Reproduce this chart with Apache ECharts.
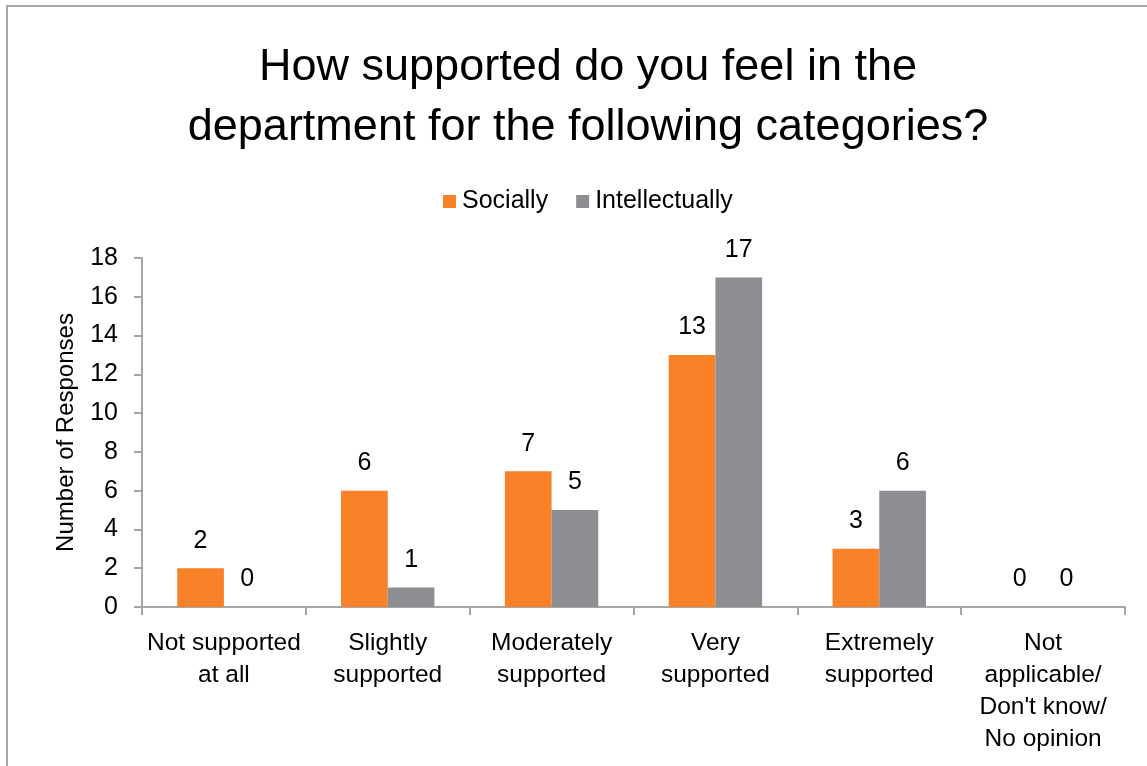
<!DOCTYPE html>
<html>
<head>
<meta charset="utf-8">
<script src="https://cdn.jsdelivr.net/npm/echarts@6/dist/echarts.min.js"></script>
<style>
html,body{margin:0;padding:0;background:#fff;}
#chart{width:1147px;height:766px;}
</style>
</head>
<body>
<div id="chart"></div>
<script>
const titleText = 'How supported do you feel in the\ndepartment for the following categories?';
const categories = ['Not supported\nat all', 'Slightly\nsupported', 'Moderately\nsupported', 'Very\nsupported', 'Extremely\nsupported', 'Not\napplicable/\nDon\'t know/\nNo opinion'];
const seriesNames = ['Socially', 'Intellectually'];
const sociallyValues = [2, 6, 7, 13, 3, 0];
const intellectuallyValues = [0, 1, 5, 17, 6, 0];
const yAxisName = 'Number of Responses';

const FONT = '"Liberation Sans", Arial, sans-serif';
const chart = echarts.init(document.getElementById('chart'), null, {renderer: 'canvas'});
const labelStyle = {show: true, position: 'top', distance: 15, color: '#000', fontFamily: FONT, fontSize: 25};
chart.setOption({
  backgroundColor: '#fff',
  animation: false,
  graphic: [{
    type: 'rect', silent: true,
    shape: {x: 7, y: 6, width: 1200, height: 1000},
    style: {fill: 'none', stroke: '#a6a6a6', lineWidth: 2}
  }],
  title: {
    text: titleText,
    left: 583, top: 33, textAlign: 'center',
    textStyle: {fontFamily: FONT, fontSize: 45, fontWeight: 'normal', color: '#000', lineHeight: 60}
  },
  legend: {
    data: seriesNames,
    left: 443, top: 189, padding: 0,
    icon: 'rect', itemWidth: 13, itemHeight: 13, itemGap: 28,
    textStyle: {fontFamily: FONT, fontSize: 25, color: '#000', padding: [0, 0, 0, 1]}
  },
  grid: {left: 142, right: 22, top: 258, bottom: 159, containLabel: false},
  xAxis: {
    type: 'category',
    data: categories,
    axisLine: {lineStyle: {color: '#a6a6a6', width: 2}},
    axisTick: {show: true, length: 8, lineStyle: {color: '#a6a6a6', width: 2}},
    axisLabel: {interval: 0, margin: 20, color: '#000', fontFamily: FONT, fontSize: 24.5, lineHeight: 32}
  },
  yAxis: {
    type: 'value', min: 0, max: 18, interval: 2,
    name: yAxisName, nameLocation: 'middle', nameGap: 64, nameRotate: 90,
    nameTextStyle: {fontFamily: FONT, fontSize: 24, color: '#000'},
    axisLine: {show: true, lineStyle: {color: '#a6a6a6', width: 2}},
    axisTick: {show: true, length: 8, lineStyle: {color: '#a6a6a6', width: 2}},
    splitLine: {show: false},
    axisLabel: {margin: 24, color: '#000', fontFamily: FONT, fontSize: 25}
  },
  series: [
    {name: seriesNames[0], type: 'bar', data: sociallyValues, barGap: '0%', barCategoryGap: '43%',
     itemStyle: {color: '#f98228'}, label: labelStyle},
    {name: seriesNames[1], type: 'bar', data: intellectuallyValues, barGap: '0%', barCategoryGap: '43%',
     itemStyle: {color: '#8d8e92'}, label: labelStyle}
  ]
});
</script>
</body>
</html>
